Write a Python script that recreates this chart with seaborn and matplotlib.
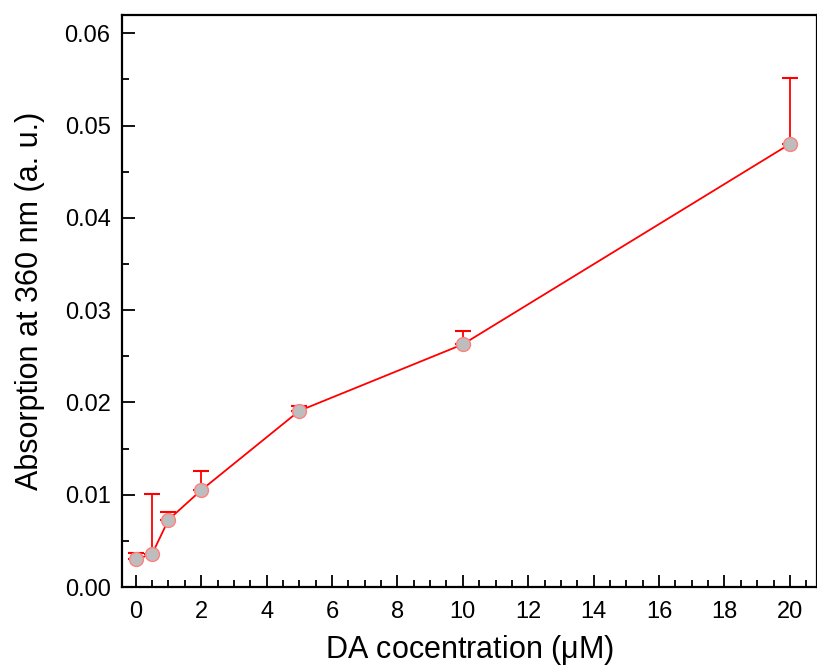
import numpy as np
import pandas as pd
import matplotlib.pyplot as plt
import seaborn as sns
from matplotlib.ticker import MultipleLocator

# data
conc = [0, 0.5, 1, 2, 5, 10, 20]
absorb = [0.0030, 0.0036, 0.0073, 0.0105, 0.0191, 0.0263, 0.0480]
err_up = [0.0007, 0.0065, 0.0008, 0.0021, 0.0005, 0.0014, 0.0071]

df = pd.DataFrame({'conc': conc, 'absorb': absorb, 'err': err_up})

sns.set_style("ticks")
plt.rcParams['font.family'] = ['Liberation Sans', 'DejaVu Sans']
plt.rcParams['mathtext.fontset'] = 'custom'
plt.rcParams['mathtext.rm'] = 'Liberation Sans'
plt.rcParams['mathtext.it'] = 'Liberation Sans'
plt.rcParams['text.color'] = 'black'
plt.rcParams['axes.labelcolor'] = 'black'

fig = plt.figure(figsize=(8.17, 6.71), dpi=100)
ax = fig.add_axes([0.149, 0.125, 0.851, 0.853])

# upper-only error bars
ax.errorbar(df['conc'], df['absorb'], yerr=[np.zeros(len(df)), df['err']],
            fmt='none', ecolor='red', elinewidth=1.3, capsize=6, capthick=1.5, zorder=2)
sns.lineplot(data=df, x='conc', y='absorb', ax=ax, color='red', linewidth=1.3,
             marker='o', markersize=10, markerfacecolor='#bdbdbd',
             markeredgecolor='#ff8080', markeredgewidth=1, zorder=3)

ax.set_xlim(-0.43, 20.83)
ax.set_ylim(0, 0.062)
ax.xaxis.set_major_locator(MultipleLocator(2))
ax.xaxis.set_minor_locator(MultipleLocator(0.5))
ax.yaxis.set_major_locator(MultipleLocator(0.01))
ax.yaxis.set_minor_locator(MultipleLocator(0.005))
ax.yaxis.set_major_formatter(plt.FormatStrFormatter('%.2f'))
ax.tick_params(which='both', direction='in', top=False, right=False, width=1.3,
               labelsize=17, pad=8, color='black', labelcolor='black')
ax.tick_params(axis='x', which='major', pad=10)
ax.tick_params(which='major', length=9)
ax.tick_params(which='minor', length=5)
for s in ax.spines.values():
    s.set_linewidth(1.6)
    s.set_color('black')

ax.set_xlabel(r'DA cocentration ($\mathrm{\mu}$M)', fontsize=22, labelpad=7)
ax.set_ylabel('Absorption at 360 nm (a. u.)', fontsize=22, labelpad=14)

fig.savefig('out.png', dpi=100)
